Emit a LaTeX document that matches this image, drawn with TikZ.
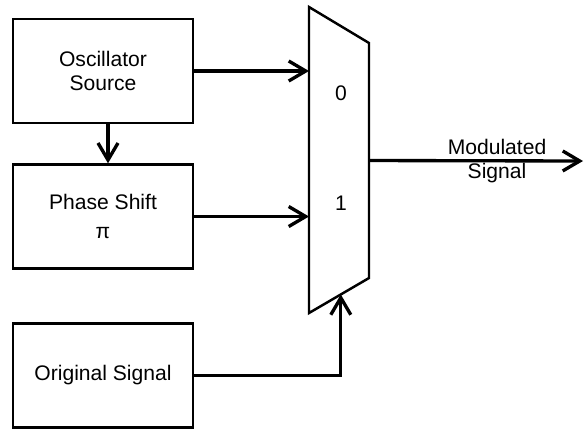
\documentclass[tikz,border=0pt]{standalone}
\usepackage{fontspec}
\setmainfont{Liberation Sans}
\usetikzlibrary{arrows.meta, calc}

\begin{document}
\begin{tikzpicture}[line width=1.4pt,
every node/.style = {font=\fontsize{12}{13.5}\selectfont, align=center},
block/.style = {shape=rectangle, draw, minimum width=3.6cm, minimum height=2.08cm},
wire/.style = {line width=1.9pt, -{Straight Barb[length=3.4mm,width=4mm]}}]
\useasboundingbox (0,0) rectangle (11.7,-8.56);
\node [block] (osc) at (2.06,-1.42) {Oscillator\\Source};
\node [block] (phase) at (2.06,-4.33) {Phase Shift\\[3pt]π};
\node [block] (orig) at (2.06,-7.51) {Original Signal};
% multiplexer
\coordinate (mux-tl) at (6.18,-0.14);
\coordinate (mux-tr) at (7.38,-0.86);
\coordinate (mux-br) at (7.38,-5.56);
\coordinate (mux-bl) at (6.18,-6.26);
\draw (mux-tl) -- (mux-tr) -- (mux-br) -- (mux-bl) -- cycle;
\coordinate (mux-sel) at ($(mux-bl)!0.53!(mux-br)$);
\coordinate (mux-out) at ($(mux-tr)!0.5!(mux-br)$);
\coordinate (out) at (11.66,-3.22);
\node (in0) at (6.82,-1.86) {0};
\node (in1) at (6.82,-4.06) {1};
% connections
\draw [wire] ([xshift=1mm]osc.south) -- ([xshift=1mm]phase.north);
\draw [wire] (osc.east) -- (osc.east -| mux-tl);
\draw [wire] (phase.east) -- (phase.east -| mux-tl);
\draw [wire] (orig.east) -| (mux-sel);
\draw [wire] (mux-out) -- (out);
\node (label) at (9.94,-3.22) {Modulated\\Signal};
\end{tikzpicture}
\end{document}
